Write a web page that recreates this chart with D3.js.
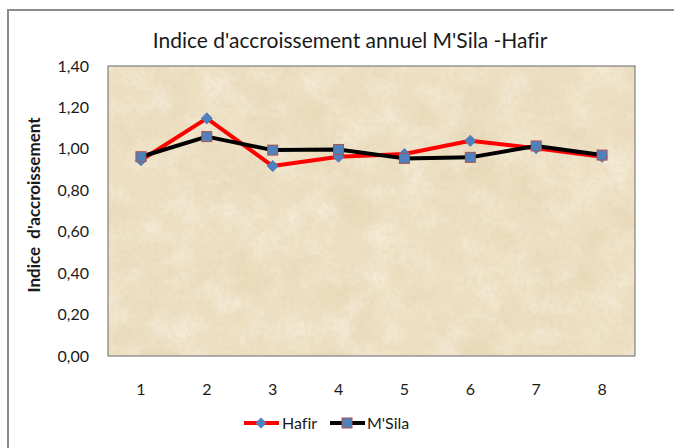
<!DOCTYPE html>
<html>
<head>
<meta charset="utf-8">
<script src="https://cdn.jsdelivr.net/npm/d3@7"></script>
<style>
  html, body { margin: 0; padding: 0; background: #ffffff; }
  svg { display: block; }
  text { font-family: Lato, "Open Sans", sans-serif; fill: #1a1a1a; font-variant-ligatures: none; white-space: pre; }
</style>
</head>
<body>
<svg id="chart" width="674" height="448"></svg>
<script>
// Annual growth index, M'Sila vs Hafir
const categories = ["1", "2", "3", "4", "5", "6", "7", "8"];
const hafir  = [0.945, 1.147, 0.917, 0.962, 0.975, 1.039, 1.003, 0.962];
const msila  = [0.962, 1.059, 0.994, 0.997, 0.954, 0.959, 1.014, 0.970];
const yTicks = [0, 0.2, 0.4, 0.6, 0.8, 1.0, 1.2, 1.4];
const titleText = "Indice d'accroissement annuel M'Sila -Hafir";
const yTitle = "Indice  d'accroissement";

const svg = d3.select("#chart");
const plot = { left: 108, right: 635, top: 66, bottom: 356 };

// chart frame
svg.append("rect")
  .attr("x", 8).attr("y", 10).attr("width", 700).attr("height", 460)
  .attr("fill", "#ffffff").attr("stroke", "#8c8c8c").attr("stroke-width", 2);

// parchment texture for the plot area
const defs = svg.append("defs");
const f = defs.append("filter").attr("id", "parchment")
  .attr("x", 0).attr("y", 0).attr("width", 1).attr("height", 1);
f.append("feTurbulence").attr("type", "fractalNoise")
  .attr("baseFrequency", "0.016 0.02").attr("numOctaves", 5).attr("seed", 7).attr("result", "n");
f.append("feColorMatrix").attr("in", "n").attr("type", "matrix")
  .attr("values", "0 0 0 0 0.80  0 0 0 0 0.67  0 0 0 0 0.46  2.4 0 0 0 -0.98")
  .attr("result", "spots");
f.append("feComposite").attr("in", "spots").attr("in2", "SourceGraphic").attr("operator", "in");

const fine = defs.append("filter").attr("id", "grain")
  .attr("x", 0).attr("y", 0).attr("width", 1).attr("height", 1);
fine.append("feTurbulence").attr("type", "fractalNoise")
  .attr("baseFrequency", "0.22").attr("numOctaves", 3).attr("seed", 3).attr("result", "g");
fine.append("feColorMatrix").attr("in", "g").attr("type", "matrix")
  .attr("values", "0 0 0 0 0.76  0 0 0 0 0.66  0 0 0 0 0.50  2.0 0 0 0 -0.82")
  .attr("result", "gs");
fine.append("feComposite").attr("in", "gs").attr("in2", "SourceGraphic").attr("operator", "in");

const hi = defs.append("filter").attr("id", "light")
  .attr("x", 0).attr("y", 0).attr("width", 1).attr("height", 1);
hi.append("feTurbulence").attr("type", "fractalNoise")
  .attr("baseFrequency", "0.03 0.035").attr("numOctaves", 4).attr("seed", 21).attr("result", "h");
hi.append("feColorMatrix").attr("in", "h").attr("type", "matrix")
  .attr("values", "0 0 0 0 0.98  0 0 0 0 0.96  0 0 0 0 0.90  2.2 0 0 0 -0.95")
  .attr("result", "hs");
hi.append("feComposite").attr("in", "hs").attr("in2", "SourceGraphic").attr("operator", "in");

const area = () => svg.append("rect")
  .attr("x", plot.left).attr("y", plot.top)
  .attr("width", plot.right - plot.left).attr("height", plot.bottom - plot.top);
area().attr("fill", "#eee1c3");
area().attr("fill", "#000").attr("filter", "url(#parchment)").attr("opacity", 0.7);
area().attr("fill", "#000").attr("filter", "url(#light)").attr("opacity", 0.45);
area().attr("fill", "#000").attr("filter", "url(#grain)").attr("opacity", 0.5);
area().attr("fill", "none").attr("stroke", "#7f7f7f").attr("stroke-width", 1.2);

// scales
const x = d3.scaleBand().domain(categories).range([plot.left, plot.right]);
const y = d3.scaleLinear().domain([0, 1.4]).range([plot.bottom, plot.top]);
const cx = c => x(c) + x.bandwidth() / 2;

// axes (labels only, no axis lines)
const fmt = d => d3.format(".2f")(d).replace(".", ",");
const yAxis = svg.append("g").attr("transform", `translate(${plot.left},0)`)
  .call(d3.axisLeft(y).tickValues(yTicks).tickFormat(fmt).tickSize(0).tickPadding(19));
yAxis.select(".domain").remove();
yAxis.selectAll("text").style("font-size", "16px").style("font-family", "Lato, sans-serif").attr("fill", "#1a1a1a");

const xAxis = svg.append("g").attr("transform", `translate(0,${plot.bottom})`)
  .call(d3.axisBottom(x).tickSize(0).tickPadding(28));
xAxis.select(".domain").remove();
xAxis.selectAll("text").style("font-size", "16px").style("font-family", "Lato, sans-serif").attr("fill", "#1a1a1a");

// titles
svg.append("text").attr("x", 350).attr("y", 48).attr("text-anchor", "middle")
  .style("font-size", "21px").text(titleText);
svg.append("text").attr("transform", "translate(40,205) rotate(-90)")
  .attr("text-anchor", "middle").style("font-size", "17px").style("font-weight", "bold")
  .text(yTitle);

// series
const line = d3.line().x((d, i) => cx(categories[i])).y(d => y(d));
svg.append("path").datum(hafir).attr("d", line)
  .attr("fill", "none").attr("stroke", "#ff0000").attr("stroke-width", 4).attr("stroke-linejoin", "round");
svg.append("path").datum(msila).attr("d", line)
  .attr("fill", "none").attr("stroke", "#000000").attr("stroke-width", 4).attr("stroke-linejoin", "round");

const diamond = d3.symbol().type(d3.symbolDiamond2).size(80);
svg.append("g").selectAll("path").data(hafir).join("path")
  .attr("transform", (d, i) => `translate(${cx(categories[i])},${y(d)})`)
  .attr("d", diamond).attr("fill", "#4f81bd").attr("stroke", "#4a7ab5").attr("stroke-width", 0.8);

svg.append("g").selectAll("rect").data(msila).join("rect")
  .attr("x", (d, i) => cx(categories[i]) - 5).attr("y", d => y(d) - 5)
  .attr("width", 10).attr("height", 10)
  .attr("fill", "#4f81bd").attr("stroke", "#b0504e").attr("stroke-width", 1);

// legend
const lg = svg.append("g").attr("transform", "translate(0,423)");
lg.append("line").attr("x1", 244).attr("x2", 279).attr("stroke", "#ff0000").attr("stroke-width", 4);
lg.append("path").attr("transform", "translate(261,0)").attr("d", diamond).attr("fill", "#4f81bd");
lg.append("text").attr("x", 282).attr("y", 6).style("font-size", "16px").text("Hafir");
lg.append("line").attr("x1", 330).attr("x2", 365).attr("stroke", "#000").attr("stroke-width", 4);
lg.append("rect").attr("x", 342).attr("y", -5).attr("width", 10).attr("height", 10)
  .attr("fill", "#4f81bd").attr("stroke", "#b0504e").attr("stroke-width", 1);
lg.append("text").attr("x", 367).attr("y", 6).style("font-size", "16px").text("M'Sila");
</script>
</body>
</html>
